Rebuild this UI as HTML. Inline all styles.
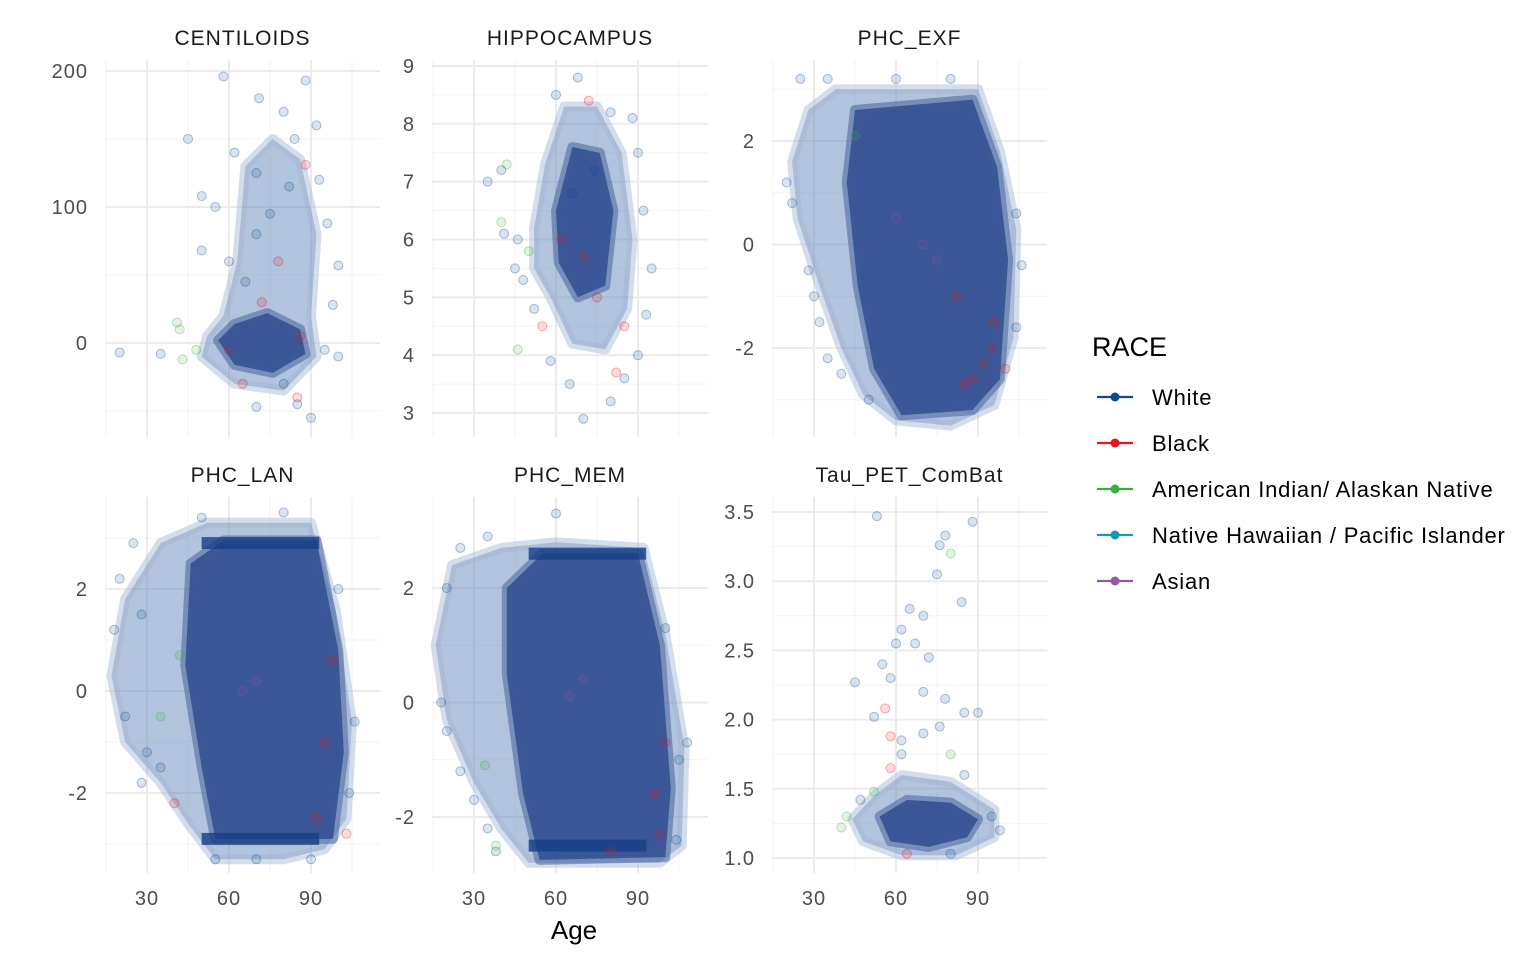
<!DOCTYPE html>
<html><head><meta charset="utf-8"><style>
html,body{margin:0;padding:0;background:#fff;}
svg{display:block;font-family:"Liberation Sans",sans-serif;}
</style></head><body>
<svg id="chart" width="1536" height="960" viewBox="0 0 1536 960"></svg>
<script>
// ---- data ----
const races = ["White","Black","American Indian/ Alaskan Native","Native Hawaiian / Pacific Islander","Asian"];
const raceColors = ["#0d4a8c","#e8141c","#3aae3a","#1797b0","#8d5aa6"];
const panelNames = ["CENTILOIDS","HIPPOCAMPUS","PHC_EXF","PHC_LAN","PHC_MEM","Tau_PET_ComBat"];
const xTicks = [30,60,90];
const xMinor = [15,45,75,105];
const yTicksCent = [0,100,200];
const yTicksHippo = [3,4,5,6,7,8,9];
const yTicksExf = [-2,0,2];
const yTicksLan = [-2,0,2];
const yTicksMem = [-2,0,2];
const yTicksTau = ["1.0","1.5","2.0","2.5","3.0","3.5"];
// dense-cloud outlines [age,value] (outer = lighter, inner = darker)
const outerCent = [[52,5],[58,20],[63,60],[66,130],[76,150],[86,135],[92,80],[90,20],[92,-10],[80,-35],[62,-30],[50,-10]];
const innerCent = [[56,2],[62,14],[74,22],[86,10],[88,-8],[76,-22],[62,-16]];
const outerHippo = [[52,6.2],[56,7.3],[63,8.3],[75,8.3],[84,7.5],[88,6],[86,4.8],[78,4.1],[66,4.2],[58,5],[52,5.5]];
const innerHippo = [[60,6.5],[66,7.6],[76,7.5],[81,6.5],[78,5.2],[68,5],[61,5.6]];
const outerExf = [[22,1.6],[28,2.6],[38,3.0],[90,3.0],[98,1.8],[104,0.3],[103,-1.8],[96,-3.1],[80,-3.5],[60,-3.4],[48,-2.9],[40,-2],[32,-0.8],[24,0.5]];
const innerExf = [[45,2.6],[88,2.8],[97,1.5],[101,-0.3],[98,-2.6],[88,-3.2],[62,-3.3],[52,-2.4],[46,-0.8],[42,1.2]];
const outerLan = [[17,0.3],[22,1.8],[35,2.9],[52,3.3],[90,3.3],[99,1.6],[105,-0.6],[103,-2.5],[95,-3.1],[80,-3.3],[55,-3.3],[45,-2.6],[35,-1.8],[22,-1]];
const innerLan = [[46,2.5],[58,2.95],[92,2.95],[100,0.8],[102,-1.2],[98,-2.9],[55,-2.9],[50,-1.5],[44,0.5]];
const outerMem = [[16,1],[22,2.4],[40,2.7],[60,2.8],[92,2.7],[100,1.2],[107,-0.8],[106,-2.5],[98,-2.8],[50,-2.8],[40,-2.2],[30,-1.4],[20,-0.3]];
const innerMem = [[42,2.0],[55,2.6],[90,2.6],[98,1.0],[102,-1.5],[100,-2.7],[54,-2.75],[48,-1.6],[42,0.5]];
const outerTau = [[44,1.28],[52,1.45],[62,1.6],[80,1.55],[96,1.35],[96,1.15],[82,1.02],[62,1.02],[48,1.12]];
const innerTau = [[54,1.3],[64,1.42],[80,1.4],[90,1.28],[86,1.15],[72,1.08],[58,1.12]];
// scattered points [age,value,raceIndex]
const ptsCent = [[58,196,0],[88,193,0],[45,150,0],[71,180,0],[80,170,0],[92,160,0],[62,140,0],[70,125,0],[50,108,0],[55,100,0],[84,150,0],[93,120,0],[96,88,0],[100,57,0],[98,28,0],[100,-10,0],[50,68,0],[60,60,0],[42,10,2],[41,15,2],[43,-12,2],[48,-5,2],[20,-7,0],[35,-8,0],[70,-47,0],[85,-45,0],[80,-30,0],[90,-55,0],[65,-30,1],[88,131,1],[85,-40,1],[78,60,1],[70,80,0],[75,95,0],[82,115,0],[66,45,0],[72,30,1],[60,-5,1],[86,5,1],[95,-5,0]];
const ptsHippo = [[68,8.8,0],[60,8.5,0],[72,8.4,1],[42,7.3,2],[40,7.2,0],[35,7,0],[40,6.3,2],[41,6.1,0],[46,6.0,0],[50,5.8,2],[45,5.5,0],[48,5.3,0],[52,4.8,0],[46,4.1,2],[55,4.5,1],[65,3.5,0],[70,2.9,0],[80,3.2,0],[85,3.6,0],[90,4,0],[93,4.7,0],[95,5.5,0],[92,6.5,0],[90,7.5,0],[88,8.1,0],[80,8.2,0],[62,6,1],[70,5.7,1],[75,5,1],[85,4.5,1],[82,3.7,1],[58,3.9,0],[66,6.8,0],[74,7.2,0]];
const ptsExf = [[25,3.2,0],[35,3.2,0],[60,3.2,0],[80,3.2,0],[20,1.2,0],[22,0.8,0],[28,-0.5,0],[30,-1,0],[32,-1.5,0],[40,-2.5,0],[50,-3,0],[35,-2.2,0],[104,0.6,0],[106,-0.4,0],[104,-1.6,0],[70,0,4],[75,-0.3,4],[92,-2.3,1],[95,-2,1],[88,-2.6,1],[85,-2.7,1],[96,-1.5,1],[100,-2.4,1],[45,2.1,2],[60,0.5,4],[82,-1,1]];
const ptsLan = [[18,1.2,0],[20,2.2,0],[25,2.9,0],[28,1.5,0],[22,-0.5,0],[30,-1.2,0],[28,-1.8,0],[35,-1.5,0],[50,3.4,0],[80,3.5,0],[100,2,0],[106,-0.6,0],[104,-2,0],[55,-3.3,0],[70,-3.3,0],[90,-3.3,0],[40,-2.2,1],[65,0,4],[70,0.2,4],[95,-1,1],[98,0.6,1],[103,-2.8,1],[92,-2.5,1],[35,-0.5,2],[42,0.7,2]];
const ptsMem = [[20,2,0],[25,2.7,0],[35,2.9,0],[60,3.3,0],[18,0,0],[20,-0.5,0],[25,-1.2,0],[30,-1.7,0],[35,-2.2,0],[38,-2.6,0],[105,-1,0],[108,-0.7,0],[104,-2.4,0],[96,-1.6,1],[100,-0.7,1],[98,-2.3,1],[80,-2.6,1],[70,0.4,4],[65,0.1,4],[34,-1.1,2],[38,-2.5,2],[100,1.3,0]];
const ptsTau = [[53,3.47,0],[78,3.33,0],[88,3.43,0],[76,3.26,0],[80,3.2,2],[75,3.05,0],[65,2.8,0],[70,2.75,0],[84,2.85,0],[62,2.65,0],[67,2.55,0],[60,2.55,0],[55,2.4,0],[58,2.3,0],[72,2.45,0],[45,2.27,0],[78,2.15,0],[85,2.05,0],[90,2.05,0],[52,2.02,0],[56,2.08,1],[62,1.85,0],[58,1.88,1],[62,1.75,0],[58,1.65,1],[70,1.9,0],[76,1.95,0],[85,1.6,0],[40,1.22,2],[42,1.3,2],[52,1.48,2],[47,1.42,0],[95,1.3,0],[98,1.2,0],[64,1.03,1],[80,1.03,0],[70,2.2,0],[80,1.75,2]];

// ---- layout ----
const svg = document.getElementById('chart');
const NS = 'http://www.w3.org/2000/svg';
function mk(tag, attrs, parent){ const e=document.createElementNS(NS,tag); for(const k in attrs) e.setAttribute(k,attrs[k]); (parent||svg).appendChild(e); return e; }

const cols = [{x0:105,x1:380,a:147},{x0:432,x1:708,a:474},{x0:772,x1:1047,a:814}];
const rows = [{y0:60,y1:437},{y0:497,y1:873}];
const pxPerYear = 82/30;
const panels = [
 {c:0,r:0,ticks:yTicksCent,minor:[-50,50,150],v1:0,p1:343,v2:200,p2:71,outer:outerCent,inner:innerCent,pts:ptsCent},
 {c:1,r:0,ticks:yTicksHippo,minor:[3.5,4.5,5.5,6.5,7.5,8.5],v1:3,p1:413,v2:9,p2:66,outer:outerHippo,inner:innerHippo,pts:ptsHippo},
 {c:2,r:0,ticks:yTicksExf,minor:[-3,-1,1,3],v1:-2,p1:348,v2:2,p2:141,outer:outerExf,inner:innerExf,pts:ptsExf},
 {c:0,r:1,ticks:yTicksLan,minor:[-3,-1,1,3],v1:-2,p1:793,v2:2,p2:589,outer:outerLan,inner:innerLan,pts:ptsLan,bands:[2.9,-2.9]},
 {c:1,r:1,ticks:yTicksMem,minor:[-3,-1,1],v1:-2,p1:817,v2:2,p2:588,outer:outerMem,inner:innerMem,pts:ptsMem,bands:[2.6,-2.5]},
 {c:2,r:1,ticks:yTicksTau,minor:[1.25,1.75,2.25,2.75,3.25],v1:1,p1:858,v2:3.5,p2:512,outer:outerTau,inner:innerTau,pts:ptsTau}
];

panels.forEach((p,i)=>{
  const col=cols[p.c], row=rows[p.r];
  const X = v => col.a + (v-30)*pxPerYear;
  const Y = v => p.p1 + (parseFloat(v)-p.v1)*(p.p2-p.p1)/(p.v2-p.v1);
  const g = mk('g',{});
  
  
  p.minor.forEach(v=>{ const y=Y(v); if(y>row.y0&&y<row.y1) mk('line',{x1:col.x0,x2:col.x1,y1:y,y2:y,stroke:'#f3f3f3','stroke-width':1},g); });
  xMinor.forEach(v=>mk('line',{x1:X(v),x2:X(v),y1:row.y0,y2:row.y1,stroke:'#f3f3f3','stroke-width':1},g));
  p.ticks.forEach(v=>{ const y=Y(v); mk('line',{x1:col.x0,x2:col.x1,y1:y,y2:y,stroke:'#ebebeb','stroke-width':2},g);
    const t=mk('text',{x:col.x0-17,y:y+7,'text-anchor':'end','font-size':20,'letter-spacing':1,fill:'#4d4d4d'},g); t.textContent=v;
      });
  xTicks.forEach(v=>mk('line',{x1:X(v),x2:X(v),y1:row.y0,y2:row.y1,stroke:'#ebebeb','stroke-width':2},g));
  if(p.r===1) xTicks.forEach(v=>{ const t=mk('text',{x:X(v),y:905,'text-anchor':'middle','font-size':20,'letter-spacing':1,fill:'#4d4d4d'},g); t.textContent=v;
      });
  const tt=mk('text',{x:(col.x0+col.x1)/2,y:row.y0-15,'text-anchor':'middle','font-size':21,'letter-spacing':1,fill:'#1a1a1a'},g);
  tt.textContent=panelNames[i];
   
  const pts = a=>a.map(q=>X(q[0]).toFixed(1)+','+Y(q[1]).toFixed(1)).join(' ');
  const o=mk('polygon',{points:pts(p.outer),fill:'#6688bb','fill-opacity':0.5,stroke:'#9fb4d3','stroke-width':10,'stroke-opacity':0.45,'stroke-linejoin':'round'},g);
   
  const inn=mk('polygon',{points:pts(p.inner),fill:'#24438a','fill-opacity':0.85,stroke:'#3a5a96','stroke-width':10,'stroke-opacity':0.5,'stroke-linejoin':'round'},g);
   
  (p.bands||[]).forEach(b=>{ const rb=mk('rect',{x:X(50),y:Y(b)-6,width:X(93)-X(50),height:12,fill:'#173f85','fill-opacity':0.8},g);
      });
  p.pts.forEach(q=>{ const c=raceColors[q[2]];
    const e=mk('circle',{cx:X(q[0]),cy:Y(q[1]),r:4.5,fill:c,'fill-opacity':0.15,stroke:c,'stroke-opacity':0.35,'stroke-width':1},g);
      });
});

const ax=mk('text',{x:574,y:939,'text-anchor':'middle','font-size':26,fill:'#000'});
ax.textContent='Age';  
const lg=mk('g',{});  
const lt=mk('text',{x:1092,y:356,'font-size':27,fill:'#000'},lg); lt.textContent='RACE';
 
races.forEach((r,i)=>{ const y=397+i*46;
  const e=mk('g',{},lg);  
  mk('line',{x1:1097,x2:1133,y1:y,y2:y,stroke:raceColors[i],'stroke-width':2.2},e);
  mk('circle',{cx:1115,cy:y,r:4.5,fill:raceColors[i]},e);
  const t=mk('text',{x:1152,y:y+8,'font-size':22,'letter-spacing':0.8,fill:'#000'},e); t.textContent=r; });
</script>
</body></html>
